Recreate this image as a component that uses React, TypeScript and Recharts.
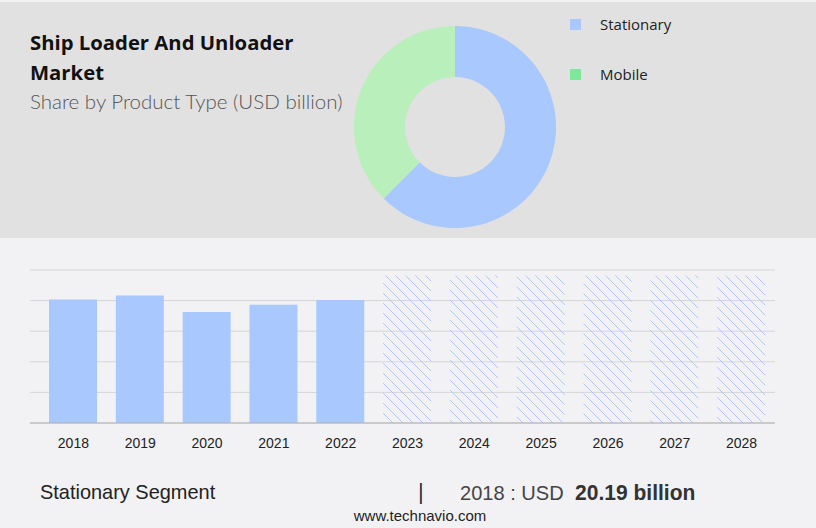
import { PieChart, Pie, Cell, BarChart, Bar, XAxis, YAxis, CartesianGrid } from 'recharts';

const segments = ['Stationary', 'Mobile'];
const segmentShares = [62.5, 37.5];
const segmentColors = ['#a8c8fe', '#b8efbb'];
const legendColors = ['#a8c8fe', '#7ee89a'];

const years = ['2018', '2019', '2020', '2021', '2022', '2023', '2024', '2025', '2026', '2027', '2028'];
const marketValues = [20.19, 20.85, 18.14, 19.33, 20.1, 24.1, 24.1, 24.1, 24.1, 24.1, 24.1];
const isForecast = [false, false, false, false, false, true, true, true, true, true, true];
const yTicks = [0, 5, 10, 15, 20, 25];

const pieData = segments.map((name, i) => ({ name, value: segmentShares[i] }));
const barData = years.map((year, i) => ({ year, value: marketValues[i] }));

const narrow = '"Liberation Sans", Arial, sans-serif';

export default function App() {
  return (
    <div style={{ position: 'absolute', left: 0, top: 0, width: 816, height: 528, background: '#f2f2f4', overflow: 'hidden' }}>
      <div style={{ position: 'absolute', left: 0, top: 2, width: 816, height: 236, background: '#e1e1e1' }} />

      <div style={{ position: 'absolute', left: 30, top: 27, fontFamily: '"Open Sans", sans-serif', fontWeight: 700, fontSize: 20.3, lineHeight: '30px', color: '#111' }}>
        Ship Loader And Unloader<br />Market
      </div>
      <div style={{ position: 'absolute', left: 30, top: 89, fontFamily: 'Lato, sans-serif', fontWeight: 300, fontSize: 20.5, color: '#555' }}>
        Share by Product Type (USD billion)
      </div>

      <PieChart width={240} height={240} style={{ position: 'absolute', left: 335, top: 7 }}>
        <Pie
          data={pieData}
          dataKey="value"
          cx={115}
          cy={115}
          innerRadius={50}
          outerRadius={101}
          startAngle={90}
          endAngle={-270}
          stroke="none"
          isAnimationActive={false}
        >
          {pieData.map((entry, index) => (
            <Cell key={`slice-${index}`} fill={segmentColors[index]} />
          ))}
        </Pie>
      </PieChart>

      {segments.map((name, i) => (
        <div key={name} style={{ position: 'absolute', left: 570, top: 14 + i * 50, height: 20, display: 'flex', alignItems: 'center', fontFamily: '"Open Sans", sans-serif', fontSize: 15, color: '#222' }}>
          <span style={{ display: 'inline-block', width: 11, height: 11, background: legendColors[i], marginRight: 19 }} />
          {name}
        </div>
      ))}

      <BarChart
        width={816}
        height={220}
        data={barData}
        margin={{ top: 30, right: 41, left: 30, bottom: 7 }}
        style={{ position: 'absolute', left: 0, top: 240 }}
      >
        <defs>
          <pattern id="hatch" patternUnits="userSpaceOnUse" width={10} height={10}>
            <path d="M-1,-1 L11,11 M-6,4 L6,16 M4,-6 L16,6" stroke="#a8c8fe" strokeWidth={1} />
          </pattern>
        </defs>
        <CartesianGrid vertical={false} stroke="#d6d6d8" />
        <YAxis hide domain={[0, 25]} ticks={yTicks} />
        <XAxis
          dataKey="year"
          padding={{ left: 10, right: 0 }}
          tickLine={false}
          axisLine={{ stroke: '#b0b0b0' }}
          tickMargin={9}
          tick={{ fontSize: 14, fill: '#222', fontFamily: '"Liberation Sans", Arial, sans-serif' }}
        />
        <Bar dataKey="value" barSize={48} isAnimationActive={false}>
          {barData.map((entry, index) => (
            <Cell key={`bar-${index}`} fill={isForecast[index] ? 'url(#hatch)' : '#a8c8fe'} />
          ))}
        </Bar>
      </BarChart>

      <div style={{ position: 'absolute', left: 40, top: 480, fontFamily: narrow, fontSize: 21, color: '#222', transform: 'scaleX(0.95)', transformOrigin: 'left top', whiteSpace: 'nowrap' }}>
        Stationary Segment
      </div>
      <div style={{ position: 'absolute', left: 418, top: 479, fontFamily: narrow, fontSize: 22, color: '#333' }}>
        |
      </div>
      <div style={{ position: 'absolute', left: 460, top: 480, fontFamily: narrow, fontSize: 21, color: '#444', transform: 'scaleX(0.955)', transformOrigin: 'left top', whiteSpace: 'nowrap' }}>
        2018 : USD <b style={{ fontSize: 22, color: '#333' }}>&nbsp;20.19 billion</b>
      </div>
      <div style={{ position: 'absolute', left: 0, width: 840, top: 507, textAlign: 'center', fontFamily: narrow, fontSize: 15, color: '#222' }}>
        www.technavio.com
      </div>
    </div>
  );
}
